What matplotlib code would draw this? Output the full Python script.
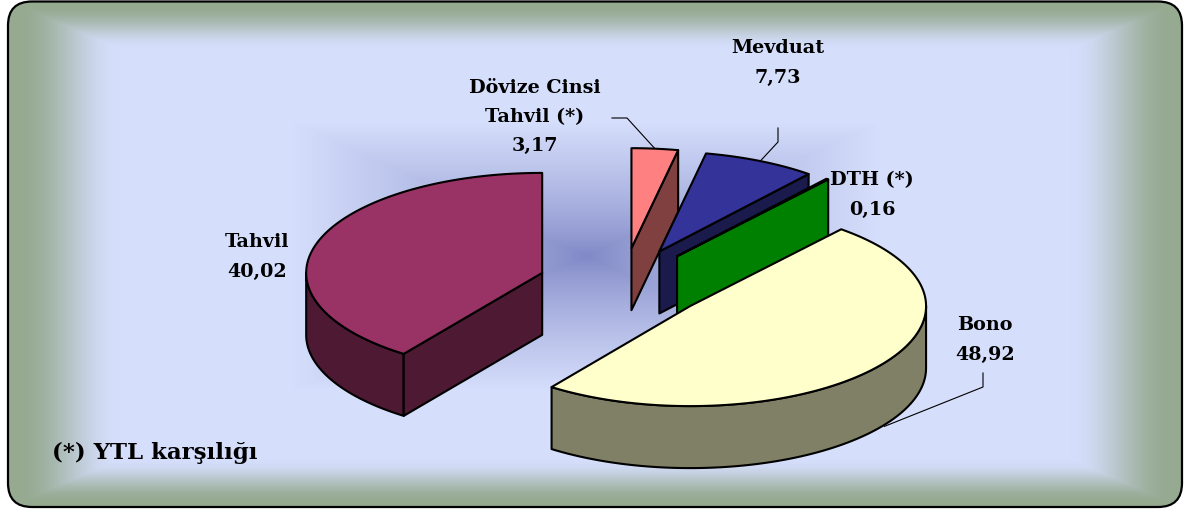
import numpy as np
import matplotlib.pyplot as plt
from matplotlib.patches import Polygon, FancyBboxPatch

# ---- data (clockwise from 12 o'clock) ----
labels = ["Dövize Cinsi\nTahvil (*)", "Mevduat", "DTH (*)", "Bono", "Tahvil"]
values = [3.17, 7.73, 0.16, 48.92, 40.02]
top_colors = ["#FF8080", "#333399", "#008000", "#FFFFCC", "#993366"]
side_colors = ["#804040", "#1A1A4D", "#008000", "#808066", "#4D1933"]
footnote = "(*) YTL karşılığı"

# ---- layout (pixels) ----
W, H = 1185, 511
CX, CY = 623, 284          # pie centre
RX, RY = 236, 100          # projected radii
DEPTH = 62
EXPLODE = 0.36
label_pos = [(535, 117), (778, 63), (872, 195), (985, 340), (257, 257)]
leader_knees = [[(612, 118), (627, 118)], [(778, 128), (778, 142)], None,
                [(983, 373), (983, 387)], None]

BLUE = np.array([213, 222, 251]) / 255
GREEN = np.array([150, 170, 146]) / 255
DARK = np.array([128, 136, 198]) / 255


def background():
    yy, xx = np.mgrid[0:H, 0:W] + 0.5
    # outer frame: rectangular gradient, green at the edges
    r = np.maximum(np.abs(xx - 595) / 587, np.abs(yy - 254) / 253)
    t = np.clip((r - 0.81) / 0.17, 0, 1)
    t = (t * t * (3 - 2 * t))[..., None]
    img = BLUE * (1 - t) + GREEN * t
    # plot area glow behind the pie
    r2 = np.maximum(np.abs(xx - 586) / 293, np.abs(yy - 256) / 134)
    inside = (r2 < 1)[..., None]
    s = np.clip(r2, 0, 1) ** 0.8
    s = s[..., None]
    glow = DARK * (1 - s) + img * s
    return np.where(inside, glow, img)


def rim(ax_, ay_, t, dz=0.0):
    t = np.radians(t)
    return ax_ + RX * np.cos(t), ay_ - RY * np.sin(t) + dz


def build_figure():
    fig = plt.figure(figsize=(W / 100, H / 100), dpi=100)
    ax = fig.add_axes([0, 0, 1, 1])
    ax.set_xlim(0, W)
    ax.set_ylim(H, 0)
    ax.set_axis_off()

    frame = FancyBboxPatch((8, 1.5), 1174, 505.5,
                           boxstyle="round,pad=0,rounding_size=24",
                           fc="none", ec="black", lw=1.6, zorder=5)
    ax.add_patch(frame)
    im = ax.imshow(background(), extent=(0, W, H, 0), zorder=0)
    im.set_clip_path(frame)

    fr = np.array(values) / sum(values)
    ends = 90 - 360 * np.cumsum(fr)
    starts = ends + 360 * fr

    slices = []
    for i in range(len(values)):
        t1, t2 = ends[i], starts[i]
        mid = (t1 + t2) / 2
        px = CX + EXPLODE * RX * np.cos(np.radians(mid))
        py = CY - EXPLODE * RY * np.sin(np.radians(mid))
        slices.append((py, i, px, t1, t2, mid))

    ekw = dict(ec="black", lw=1.5, joinstyle="round")
    z = 1
    for py, i, px, t1, t2, mid in sorted(slices):
        # curved outer side (front half only)
        for k in (-1, 0, 1):
            lo, hi = max(t1, 180 + 360 * k), min(t2, 360 + 360 * k)
            if hi > lo:
                ts = np.linspace(lo, hi, 80)
                xt, yt = rim(px, py, ts)
                pts = np.vstack([np.c_[xt, yt], np.c_[xt, yt + DEPTH][::-1]])
                ax.add_patch(Polygon(pts, fc=side_colors[i], zorder=z, **ekw))
        # radial faces turned toward viewer
        for t, visible in ((t1, np.cos(np.radians(t1)) > 1e-6),
                           (t2, np.cos(np.radians(t2)) < -1e-6)):
            if visible:
                rx_, ry_ = rim(px, py, t)
                pts = [(px, py), (rx_, ry_), (rx_, ry_ + DEPTH), (px, py + DEPTH)]
                ax.add_patch(Polygon(pts, fc=side_colors[i], zorder=z, **ekw))
        # top face
        ts = np.linspace(t1, t2, max(4, int(abs(t2 - t1))))
        xt, yt = rim(px, py, ts)
        pts = np.vstack([[px, py], np.c_[xt, yt]])
        ax.add_patch(Polygon(pts, fc=top_colors[i], zorder=z + 0.5, **ekw))
        z += 1

        # label + leader
        lx, ly = label_pos[i]
        txt = f"{labels[i]}\n{values[i]:.2f}".replace(".", ",")
        ax.text(lx, ly, txt, ha="center", va="center", fontsize=13.8,
                fontweight="bold", family="DejaVu Serif", linespacing=1.8,
                zorder=10)
        if leader_knees[i] is not None:
            front = np.sin(np.radians(mid)) < 0
            ex, ey = rim(px, py, mid)
            if front:
                ey += DEPTH * 0.95
                ex += 8
            xs = [p[0] for p in leader_knees[i]] + [ex]
            ys = [p[1] for p in leader_knees[i]] + [ey]
            ax.plot(xs, ys, color="black", lw=0.8, zorder=10 if front else 0.5)

    ax.text(52, 453, footnote, ha="left", va="center", fontsize=16.5,
            fontweight="bold", family="DejaVu Serif", zorder=10)
    return fig


fig = build_figure()
fig.savefig("out.png", dpi=100)
